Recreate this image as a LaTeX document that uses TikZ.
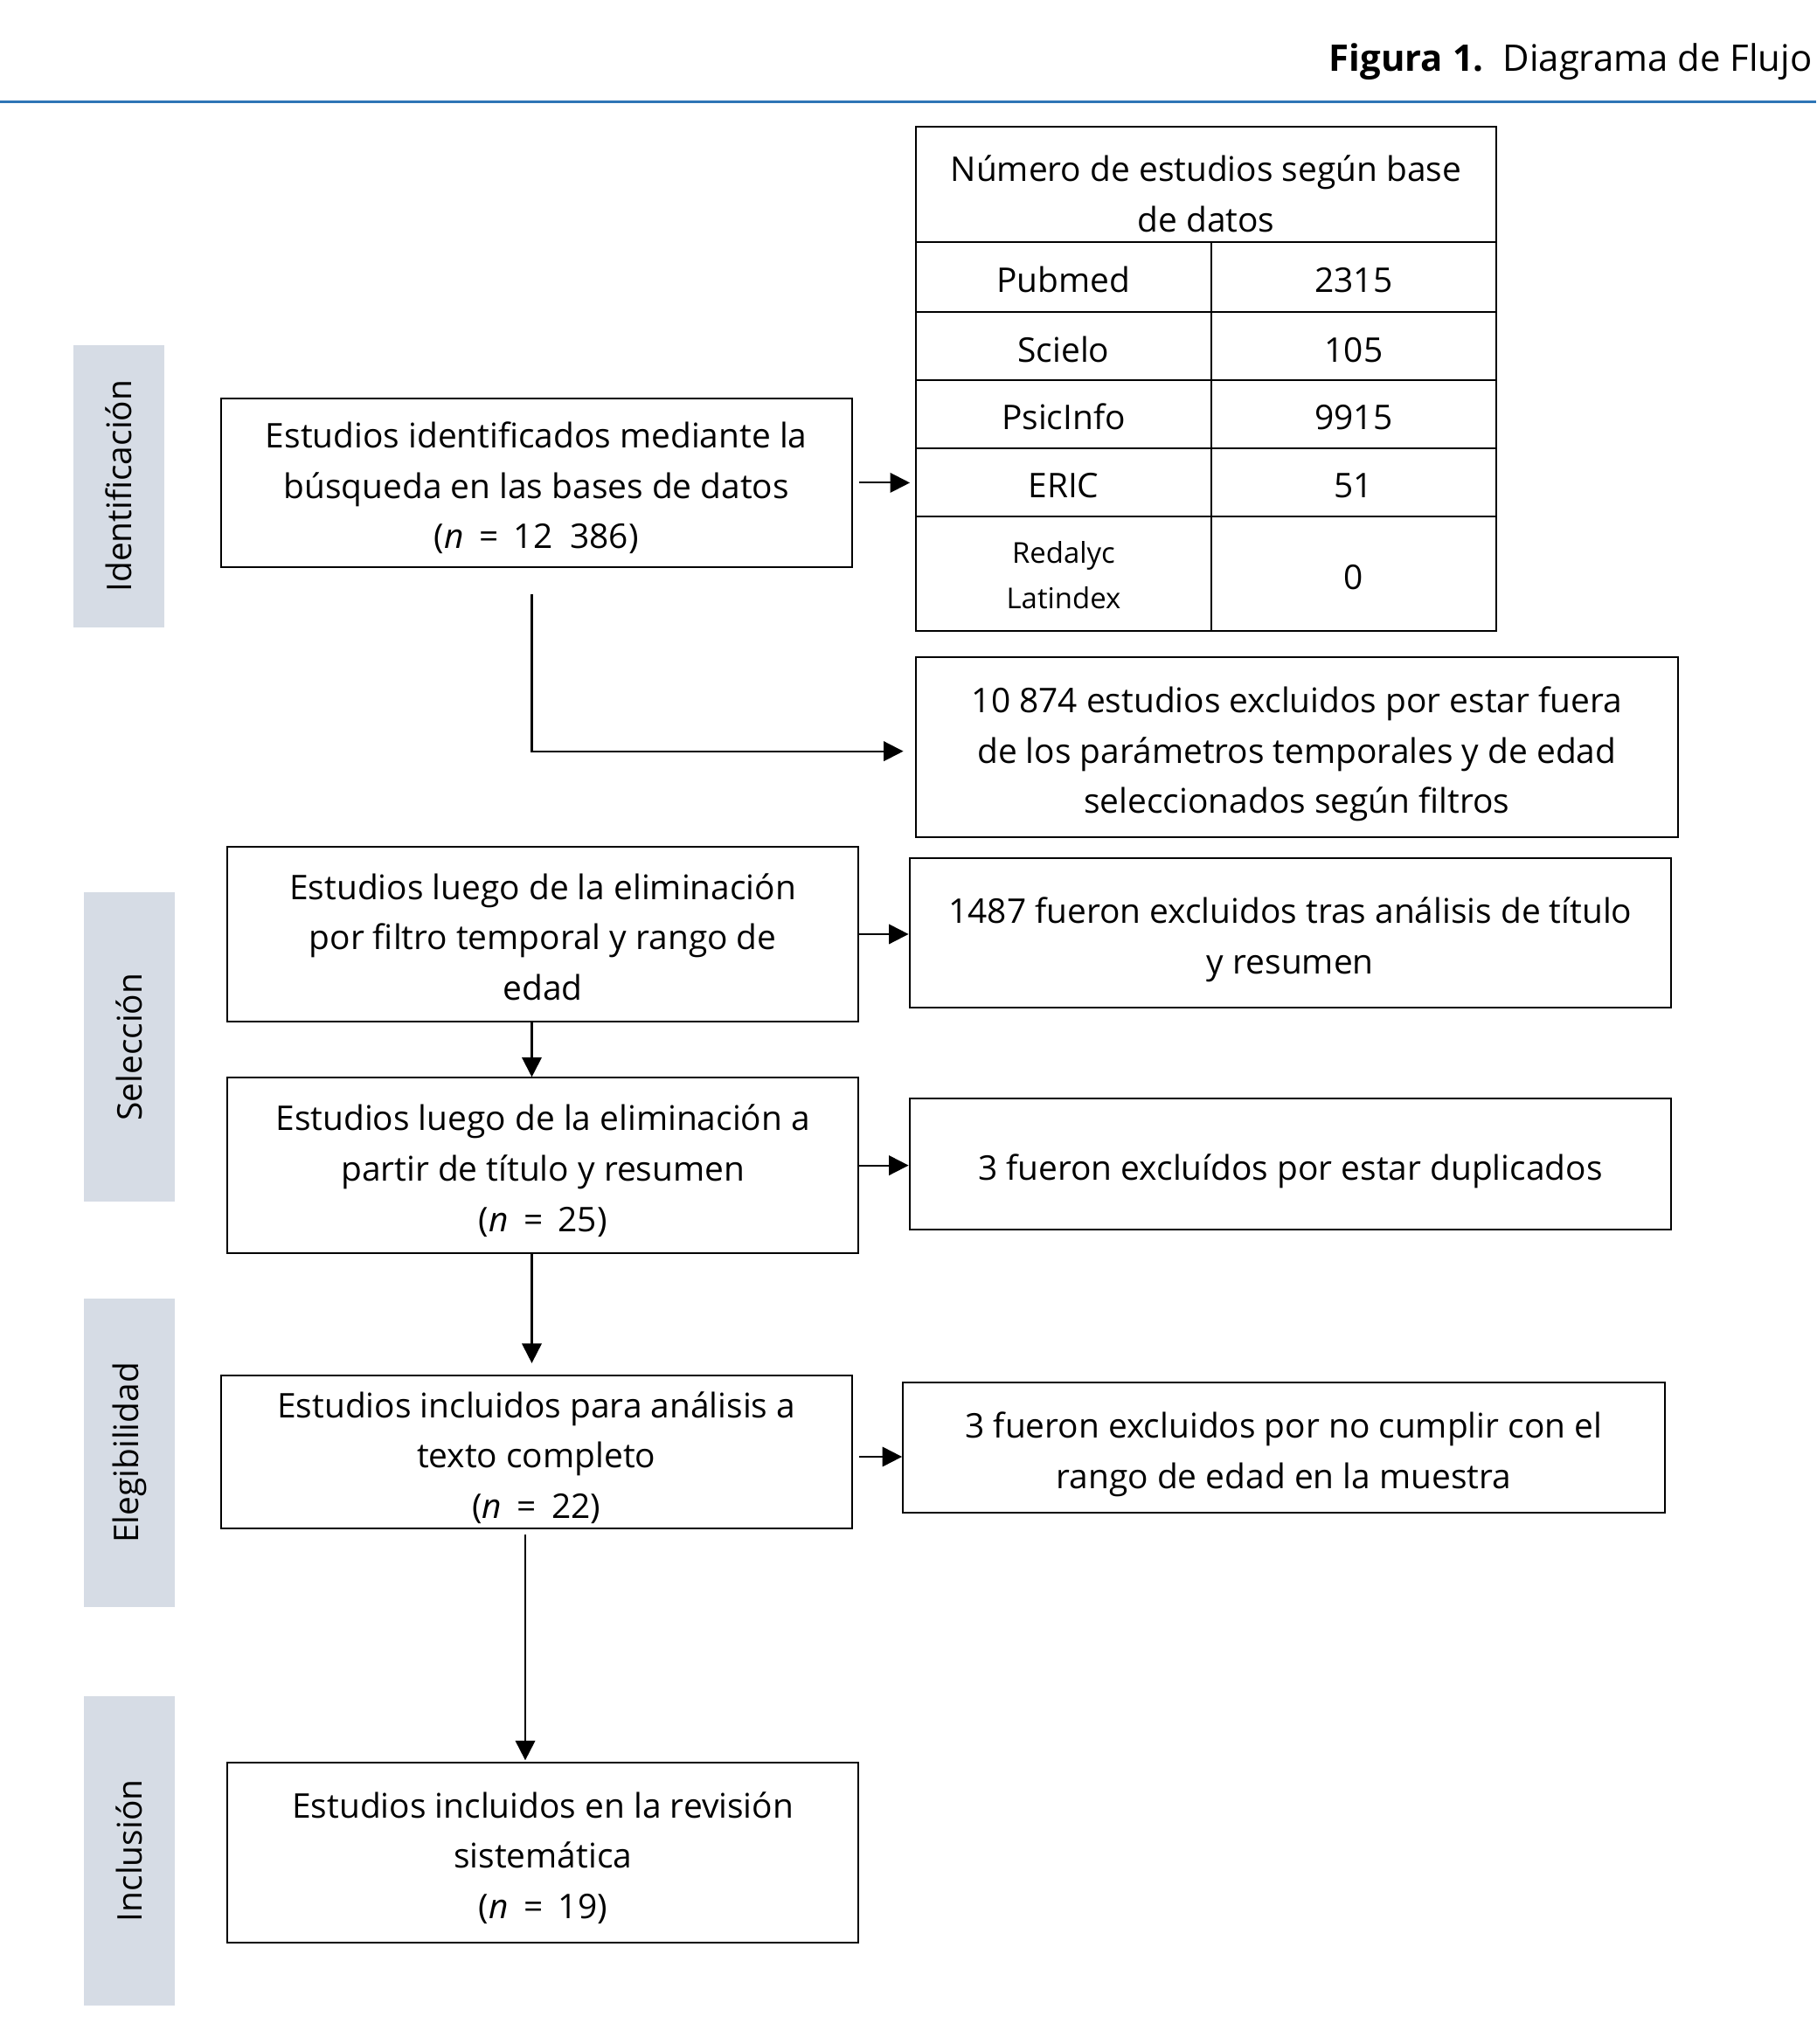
\documentclass[tikz,border=0pt]{standalone}
\usepackage{fontspec}
\setmainfont{Open Sans}
\usetikzlibrary{arrows.meta}
\definecolor{sidebar}{RGB}{214,220,229}
\definecolor{topblue}{RGB}{46,117,182}
\newcommand\fst{\rule{0pt}{32pt}}
\newcommand\lst{\rule[-8pt]{0pt}{0pt}}
\newcommand\eqs{\hspace{0.45em}=\hspace{0.45em}}
\begin{document}
\begin{tikzpicture}[x=1pt,y=-1pt,
  txt/.style={font=\fontsize{26}{38.5}\selectfont},
  flowbox/.style={draw, line width=1.3pt, align=center, inner sep=0pt, txt},
  cell/.style={draw, line width=1.3pt, align=center, inner sep=0pt, txt},
  sidebox/.style={fill=sidebar, rotate=90, inner sep=0pt, minimum height=70pt, txt},
  arr/.style={line width=1.4pt, -{Triangle[length=15pt,width=15pt]}}]
\useasboundingbox (0,0) rectangle (1390,1564.5);
% title
\node[anchor=east, inner sep=0pt, font=\fontsize{28}{34}\selectfont] (title) at (1387,47) {\textbf{Figura 1.}\ \ Diagrama de Flujo};
\coordinate (tl) at (0,78);
\coordinate (tr) at (1390,78);
\draw[topblue, line width=2.5pt] (tl) -- (tr);
% side bars
\node[sidebox, minimum width=216pt] (sid) at (91,372) {Identificación};
\node[sidebox, minimum width=237pt] (sse) at (99,801.5) {Selección};
\node[sidebox, minimum width=236pt] (sel) at (99,1112) {Elegibilidad};
\node[sidebox, minimum width=237pt] (sin) at (99,1416.5) {Inclusión};
% table
\node[cell, minimum width=444pt, minimum height=88pt] (thead) at (923,141) {\rule{0pt}{42pt}Número de estudios según base\\de datos\lst};
\node[cell, minimum width=226pt, minimum height=54pt] (pub) at (814,212) {\fst Pubmed\lst};
\node[cell, minimum width=218pt, minimum height=54pt] (pubn) at (1036,212) {\fst 2315\lst};
\node[cell, minimum width=226pt, minimum height=52pt] (sci) at (814,265) {\fst Scielo\lst};
\node[cell, minimum width=218pt, minimum height=52pt] (scin) at (1036,265) {\fst 105\lst};
\node[cell, minimum width=226pt, minimum height=52pt] (psi) at (814,317) {\fst PsicInfo\lst};
\node[cell, minimum width=218pt, minimum height=52pt] (psin) at (1036,317) {\fst 9915\lst};
\node[cell, minimum width=226pt, minimum height=52pt] (eric) at (814,369) {\fst ERIC\lst};
\node[cell, minimum width=218pt, minimum height=52pt] (ericn) at (1036,369) {\fst 51\lst};
\node[cell, minimum width=226pt, minimum height=88pt, font=\fontsize{22}{35}\selectfont] (red) at (814,439) {\rule{0pt}{25pt}Redalyc\\Latindex\rule[-6pt]{0pt}{0pt}};
\node[cell, minimum width=218pt, minimum height=88pt] (redn) at (1036,439) {\fst 0\lst};
% boxes
\node[flowbox, minimum width=483pt, minimum height=129pt] (b1) at (410.5,369.5) {\fst Estudios identificados mediante la\\búsqueda en las bases de datos\\(\textit{n}\eqs 12~~386)\lst};
\node[flowbox, minimum width=583pt, minimum height=138pt] (b2) at (992.5,572) {\fst 10 874 estudios excluidos por estar fuera\\de los parámetros temporales y de edad\\seleccionados según filtros\lst};
\node[flowbox, minimum width=483pt, minimum height=134pt] (b3) at (415.5,715) {\fst Estudios luego de la eliminación\\por filtro temporal y rango de\\edad\lst};
\node[flowbox, minimum width=583pt, minimum height=114pt] (b4) at (987.5,714) {\fst 1487 fueron excluidos tras análisis de título\\y resumen\lst};
\node[flowbox, minimum width=483pt, minimum height=134pt] (b5) at (415.5,892) {\fst Estudios luego de la eliminación a\\partir de título y resumen\\(\textit{n}\eqs 25)\lst};
\node[flowbox, minimum width=583pt, minimum height=100pt] (b6) at (987.5,891) {\fst 3 fueron excluídos por estar duplicados\lst};
\node[flowbox, minimum width=483pt, minimum height=115pt] (b7) at (410.5,1111.5) {\fst Estudios incluidos para análisis a\\texto completo\\(\textit{n}\eqs 22)\lst};
\node[flowbox, minimum width=583pt, minimum height=100pt] (b8) at (982.5,1108) {\fst 3 fueron excluidos por no cumplir con el\\rango de edad en la muestra\lst};
\node[flowbox, minimum width=483pt, minimum height=138pt] (b9) at (415.5,1418) {\fst Estudios incluidos en la revisión\\sistemática\\(\textit{n}\eqs 19)\lst};
% connectors
\draw[arr] ([xshift=5pt]b1.east) -- ([xshift=-4pt]b1.east -| eric.west);
\draw[arr] ([xshift=-3.5pt,yshift=-20pt]b1.south) |- ([xshift=-9pt,yshift=-3pt]b2.west);
\draw[arr] (b3.east) -- (b3.east -| b4.west);
\draw[arr] ([xshift=-8.5pt]b3.south) -- ([xshift=-8.5pt]b3.south |- b5.north);
\draw[arr] (b5.east) -- (b5.east -| b6.west);
\draw[arr] ([xshift=-8.5pt]b5.south) -- ([xshift=-8.5pt,yshift=9pt]b5.south |- b7.north);
\draw[arr] ([xshift=5pt,yshift=-3.5pt]b7.east) -- ([yshift=-3.5pt]b7.east -| b8.west);
\draw[arr] ([xshift=-8.5pt,yshift=-4pt]b7.south) -- ([xshift=-8.5pt,yshift=1pt]b7.south |- b9.north);
\end{tikzpicture}
\end{document}
